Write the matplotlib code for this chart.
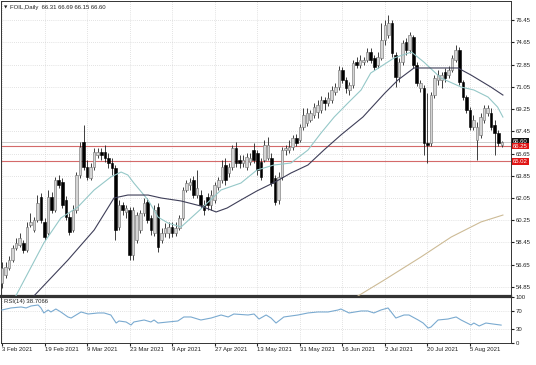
import numpy as np
import matplotlib
matplotlib.use("Agg")
import matplotlib.pyplot as plt
from matplotlib.transforms import blended_transform_factory

# daily candles (FOIL, 3 Feb - mid Aug 2021)
opens = [55.17, 55.82, 56.39, 57.03, 58.00, 58.25, 58.41, 57.84, 59.87, 59.46,
         60.27, 62.13, 60.11, 59.22, 62.13, 61.08, 63.50, 63.34, 61.89, 60.51,
         59.46, 61.08, 63.91, 66.58, 64.56, 63.67, 64.56, 65.53, 65.77, 65.77,
         65.29, 64.88, 64.47, 59.70, 61.48, 60.92, 61.08, 57.44, 58.65, 59.46,
         60.84, 61.73, 60.43, 59.22, 61.32, 58.65, 59.22, 59.22, 59.70, 59.22,
         59.62, 60.43, 62.70, 63.10, 63.50, 62.29, 62.29, 61.48, 62.13, 61.48,
         61.89, 62.94, 63.50, 64.72, 64.07, 64.56, 66.09, 65.12, 64.88, 64.56,
         64.96, 65.93, 65.69, 64.96, 65.12, 65.29, 65.29, 63.67, 61.89, 63.75,
         65.93, 65.93, 66.18, 66.90, 66.74, 67.80, 68.12, 68.36, 68.77, 69.01,
         69.17, 69.98, 69.74, 69.98, 70.63, 71.03, 72.40, 71.60, 70.79, 71.19,
         73.05, 72.81, 73.05, 73.21, 73.86, 73.38, 72.81, 73.38, 74.83, 75.24,
         76.21, 73.62, 71.84, 73.05, 74.67, 74.02, 75.07, 72.81, 70.95, 70.95,
         66.50, 66.50, 70.38, 71.60, 71.60, 72.24, 72.00, 72.40, 73.21, 74.02,
         71.43, 70.22, 69.17, 67.80, 66.74, 67.15, 68.36, 68.93, 68.93, 67.96,
         67.31, 66.31]
highs = [56.87, 56.87, 57.36, 58.25, 58.81, 59.22, 58.65, 60.11, 60.84, 60.51,
         62.29, 62.45, 60.43, 62.70, 62.53, 63.75, 63.91, 63.67, 62.21, 60.84,
         61.48, 64.15, 66.58, 67.96, 65.12, 64.88, 66.09, 66.09, 66.09, 66.34,
         65.69, 65.29, 64.72, 61.89, 61.73, 61.48, 61.32, 61.32, 60.92, 61.08,
         62.05, 62.05, 60.67, 61.48, 61.64, 59.62, 60.03, 60.11, 60.11, 60.11,
         60.67, 62.94, 63.50, 63.67, 63.83, 64.31, 62.70, 61.89, 62.45, 62.70,
         63.34, 63.75, 65.12, 65.29, 64.88, 66.34, 66.58, 65.53, 65.53, 65.69,
         65.69, 66.50, 65.93, 65.29, 66.74, 66.98, 65.69, 63.91, 64.15, 66.18,
         66.34, 66.74, 67.15, 67.23, 68.04, 69.33, 69.33, 69.17, 69.74, 69.98,
         70.30, 70.22, 70.63, 71.11, 71.35, 72.73, 72.65, 71.84, 71.43, 73.21,
         73.46, 73.62, 73.46, 74.18, 74.18, 73.62, 73.86, 76.21, 76.45, 76.85,
         76.45, 73.86, 73.38, 74.83, 74.99, 75.48, 75.24, 73.05, 71.60, 71.19,
         70.54, 70.63, 72.00, 72.40, 72.24, 72.57, 72.73, 73.62, 74.43, 74.26,
         71.60, 70.38, 69.41, 68.77, 68.20, 68.93, 69.57, 69.57, 69.33, 68.36,
         67.55, 66.69]
lows = [54.77, 55.58, 56.22, 56.87, 57.84, 58.09, 57.60, 57.68, 59.70, 59.30,
        60.11, 60.03, 58.65, 59.06, 60.84, 60.92, 62.86, 61.24, 60.27, 59.06,
        59.30, 60.84, 63.67, 64.31, 63.50, 63.50, 64.31, 65.29, 65.12, 64.96,
        64.47, 63.91, 58.65, 59.46, 60.67, 60.43, 57.03, 57.03, 58.41, 59.22,
        60.59, 60.03, 59.06, 58.97, 57.68, 58.41, 58.89, 58.81, 58.89, 58.97,
        59.46, 60.27, 62.53, 62.70, 62.05, 62.05, 61.24, 60.67, 61.08, 61.08,
        61.64, 62.70, 63.26, 63.10, 63.75, 64.31, 64.56, 64.47, 64.56, 64.31,
        64.72, 64.88, 63.91, 63.50, 64.96, 65.12, 63.02, 61.48, 61.56, 63.50,
        65.53, 65.69, 65.93, 66.26, 66.58, 67.55, 67.87, 68.20, 68.52, 68.52,
        68.93, 69.17, 69.49, 69.74, 70.38, 70.79, 71.35, 70.54, 70.38, 70.95,
        72.57, 72.57, 72.81, 73.05, 72.97, 72.40, 72.57, 73.21, 74.43, 74.99,
        73.46, 71.03, 71.43, 72.81, 73.62, 73.78, 72.57, 71.11, 70.63, 65.53,
        64.88, 66.26, 70.14, 71.19, 70.95, 71.43, 71.76, 72.24, 73.05, 71.19,
        69.98, 68.93, 67.55, 67.55, 65.12, 66.90, 68.12, 68.69, 67.55, 65.53,
        66.26, 66.15]
closes = [56.39, 56.47, 57.03, 58.00, 58.41, 58.81, 57.84, 59.70, 60.11, 60.27,
          61.64, 60.27, 58.89, 62.13, 61.08, 63.50, 63.10, 61.48, 60.51, 59.30,
          61.08, 63.91, 66.18, 64.56, 63.75, 64.56, 65.77, 65.77, 65.53, 65.29,
          64.88, 64.47, 59.46, 61.48, 61.08, 61.24, 57.44, 61.08, 60.67, 60.84,
          61.64, 60.27, 59.46, 61.08, 58.09, 59.22, 59.62, 59.70, 59.22, 59.62,
          60.43, 62.70, 63.26, 63.34, 62.29, 62.86, 61.48, 61.08, 61.48, 62.29,
          63.10, 63.50, 64.56, 63.50, 64.56, 66.09, 64.88, 64.88, 65.12, 65.37,
          65.29, 65.12, 64.31, 63.75, 66.34, 66.34, 63.26, 61.73, 63.75, 65.93,
          66.09, 66.18, 66.90, 66.50, 67.80, 68.77, 68.93, 68.93, 69.41, 69.57,
          69.98, 69.74, 70.14, 70.79, 71.03, 72.40, 71.60, 70.95, 71.19, 72.97,
          72.81, 73.21, 73.21, 73.86, 73.21, 72.65, 73.46, 74.83, 76.05, 76.21,
          73.78, 71.84, 73.05, 74.59, 74.02, 75.24, 72.81, 71.35, 71.35, 66.50,
          66.34, 70.38, 71.76, 72.00, 72.00, 71.76, 72.40, 73.38, 74.02, 71.43,
          70.22, 69.17, 67.80, 68.36, 67.80, 68.60, 69.33, 69.33, 67.80, 67.31,
          66.50, 66.60]

# moving averages, points (x = bar number)
ma_fast_x = [3.9, 4.8, 11.8, 16.6, 21.4, 26, 30.7, 33.6, 35.5, 37.2, 41.2, 44,
             46.8, 50.5, 55.8, 61.8, 67.4, 71.9, 76.7, 81.5, 86.3, 90, 93.7,
             97.6, 101.3, 104, 110.6, 115.5, 119, 123.8, 129.5, 133.1, 137.1,
             139.8, 141.3]
ma_fast_y = [54.12, 54.61, 58.41, 60.43, 61.32, 62.70, 63.75, 64.15, 63.91,
             63.26, 61.89, 60.51, 60.03, 59.70, 61.08, 62.70, 63.26, 64.31,
             64.72, 64.88, 65.93, 67.31, 68.60, 69.74, 70.79, 72.16, 73.38,
             73.86, 73.05, 71.76, 71.03, 70.79, 70.22, 69.41, 68.60]
ma_slow_x = [9, 18.6, 26, 31.6, 35.5, 41.2, 44.9, 50.5, 56.1, 60.4, 63.5, 67.4,
             71.9, 77, 81.5, 86.3, 90.8, 95.6, 101.8, 108, 111.7, 116.2, 121,
             128.6, 132.3, 137.9, 141.3]
ma_slow_y = [54.12, 57.03, 59.46, 62.05, 62.29, 62.29, 62.05, 61.81, 61.40,
             60.92, 61.24, 61.89, 62.62, 63.34, 64.07, 64.72, 65.93, 67.15,
             68.60, 70.54, 71.60, 72.57, 72.57, 72.57, 72.00, 71.03, 70.38]
ma200_x = [100.4, 107.8, 118.2, 126.7, 135.1, 141.3]
ma200_y = [54.12, 55.41, 57.28, 58.89, 60.11, 60.67]

rsi_x = [0, 2.5, 5.4, 6.8, 8.2, 10.2, 11, 11.8, 13, 13.8, 15.2, 16.6, 18.6,
         19.5, 22.3, 24.3, 27.1, 28.8, 30.7, 32.2, 33, 35, 36.4, 37.2, 40.1,
         42, 42.9, 44, 46.8, 49.6, 51.3, 53.3, 56.1, 59, 61.8, 63.8, 65.4,
         69.4, 71.1, 72.5, 74.5, 75.9, 77.3, 79.5, 83.5, 86.3, 89.1, 92, 94.8,
         95.6, 97.9, 101.3, 103.2, 104.9, 106.9, 108.9, 111.1, 113.4, 114.8,
         117.4, 118.8, 120.2, 121, 123, 125.8, 128.1, 129.5, 132.3, 133.1,
         134.6, 136.5, 138.5, 140.8]
rsi_y = [72.2, 76.7, 78.9, 76.7, 81.1, 83.3, 76.7, 65.6, 72.2, 67.8, 74.4,
         67.8, 56.7, 54.4, 67.8, 63.3, 65.6, 65.6, 61.1, 43.3, 47.8, 45.6,
         38.9, 45.6, 50.0, 45.6, 50.0, 43.3, 45.6, 47.8, 56.7, 56.7, 50.0,
         54.4, 61.1, 56.7, 63.3, 61.1, 63.3, 52.2, 61.1, 54.4, 43.3, 56.7,
         61.1, 65.6, 67.8, 67.8, 72.2, 74.4, 65.6, 70.0, 70.0, 65.6, 72.2,
         76.7, 54.4, 61.1, 61.1, 50.0, 43.3, 32.2, 34.4, 50.0, 52.2, 56.7,
         50.0, 38.9, 43.3, 36.7, 43.3, 41.1, 38.7]

date_labels = ['3 Feb 2021', '19 Feb 2021', '9 Mar 2021', '23 Mar 2021',
               '9 Apr 2021', '27 Apr 2021', '13 May 2021', '31 May 2021',
               '16 Jun 2021', '2 Jul 2021', '20 Jul 2021', '5 Aug 2021']
date_pos = [0, 12, 24, 36, 48, 60, 72, 84, 96, 108, 120, 132]
price_ticks = [54.85, 56.65, 58.45, 60.25, 62.05, 63.85, 65.65, 67.45,
               69.25, 71.05, 72.85, 74.65, 76.45]
rsi_ticks = [0, 30, 70, 100]
level_hi = 66.25
level_lo = 65.02
bid = 66.60

font = ['Liberation Sans', 'DejaVu Sans']
plt.rcParams['font.family'] = font
fs = 4.3
grid_kw = dict(color='#c8c8c8', lw=0.5, ls=(0, (1, 2)), zorder=0)

fig = plt.figure(figsize=(5.36, 3.65), dpi=100)
ax = fig.add_axes([1 / 536, 69 / 365, 510 / 536, 295 / 365])
ax2 = fig.add_axes([1 / 536, 22 / 365, 510 / 536, 46 / 365], sharex=ax)

o = np.array(opens); c = np.array(closes)
h = np.array(highs); l = np.array(lows)
x = np.arange(len(o))
up = c >= o

for p in price_ticks:
    ax.axhline(p, **grid_kw)
for d in date_pos:
    ax.axvline(d, **grid_kw)
    ax2.axvline(d, **grid_kw)
for r in (30, 70):
    ax2.axhline(r, **grid_kw)

ax.vlines(x, l, h, color='#202020', lw=0.6, zorder=2)
body_lo = np.minimum(o, c)
body_h = np.maximum(np.abs(c - o), 0.04)
ax.bar(x[up], body_h[up], bottom=body_lo[up], width=0.72,
       color='#d4d4d4', edgecolor='#6e6e6e', lw=0.4, zorder=3)
ax.bar(x[~up], body_h[~up], bottom=body_lo[~up], width=0.72,
       color='#000000', edgecolor='#000000', lw=0.4, zorder=3)

ax.plot(ma_fast_x, ma_fast_y, color='#95c8c8', lw=0.8, zorder=4)
ax.plot(ma_slow_x, ma_slow_y, color='#3e3e58', lw=0.8, zorder=4)
ax.plot(ma200_x, ma200_y, color='#cdbb96', lw=0.8, zorder=4)

ax.axhline(bid, color='#c4c4c4', lw=0.6, zorder=1)
ax.axhline(level_hi, color='#d46a6a', lw=0.8, zorder=1)
ax.axhline(level_lo, color='#d46a6a', lw=0.8, zorder=1)

ax.set_xlim(-0.28, 143.58)
ax.set_ylim(54.12, 77.99)
ax.yaxis.tick_right()
ax.set_yticks(price_ticks)
ax.set_yticklabels(['%.2f' % p for p in price_ticks])
ax.tick_params(axis='y', labelsize=fs, length=2, pad=1.5, colors='#222222')
ax.tick_params(axis='x', bottom=False, labelbottom=False)

tr = blended_transform_factory(ax.transAxes, ax.transData)
for val, bg in ((bid, '#111111'), (level_hi, '#e01515'), (level_lo, '#e01515')):
    ax.text(1.004, val, '%.2f' % val, transform=tr, fontsize=fs, color='white',
            va='center', ha='left', clip_on=False, zorder=6,
            bbox=dict(boxstyle='square,pad=0.15', fc=bg, ec='none'))

ax.text(0.006, 0.985, u'\u25bc', transform=ax.transAxes, fontsize=3.2,
        va='top', ha='left', color='#222222', family=['DejaVu Sans'])
ax.text(0.017, 0.988, 'FOIL,Daily  66.31 66.69 66.15 66.60',
        transform=ax.transAxes, fontsize=fs, va='top', ha='left', color='#222222')

ax2.plot(rsi_x, rsi_y, color='#7aaad0', lw=0.8, zorder=3)
ax2.set_ylim(-1, 101)
ax2.yaxis.tick_right()
ax2.set_yticks(rsi_ticks)
ax2.set_yticklabels([str(r) for r in rsi_ticks])
ax2.tick_params(axis='y', labelsize=fs, length=2, pad=1.5, colors='#222222')
ax2.set_xticks(date_pos)
ax2.set_xticklabels(date_labels, ha='left')
ax2.tick_params(axis='x', labelsize=fs, length=2, pad=1.2, colors='#222222')
ax2.text(0.006, 0.95, 'RSI(14) 38.7066', transform=ax2.transAxes,
         fontsize=fs, va='top', ha='left', color='#222222')

for a in (ax, ax2):
    for s in a.spines.values():
        s.set_color('#333333')
        s.set_linewidth(0.7)
ax.spines['bottom'].set_linewidth(1.6)
ax2.spines['top'].set_linewidth(1.6)

fig.savefig('out.png', dpi=100, facecolor='white')
